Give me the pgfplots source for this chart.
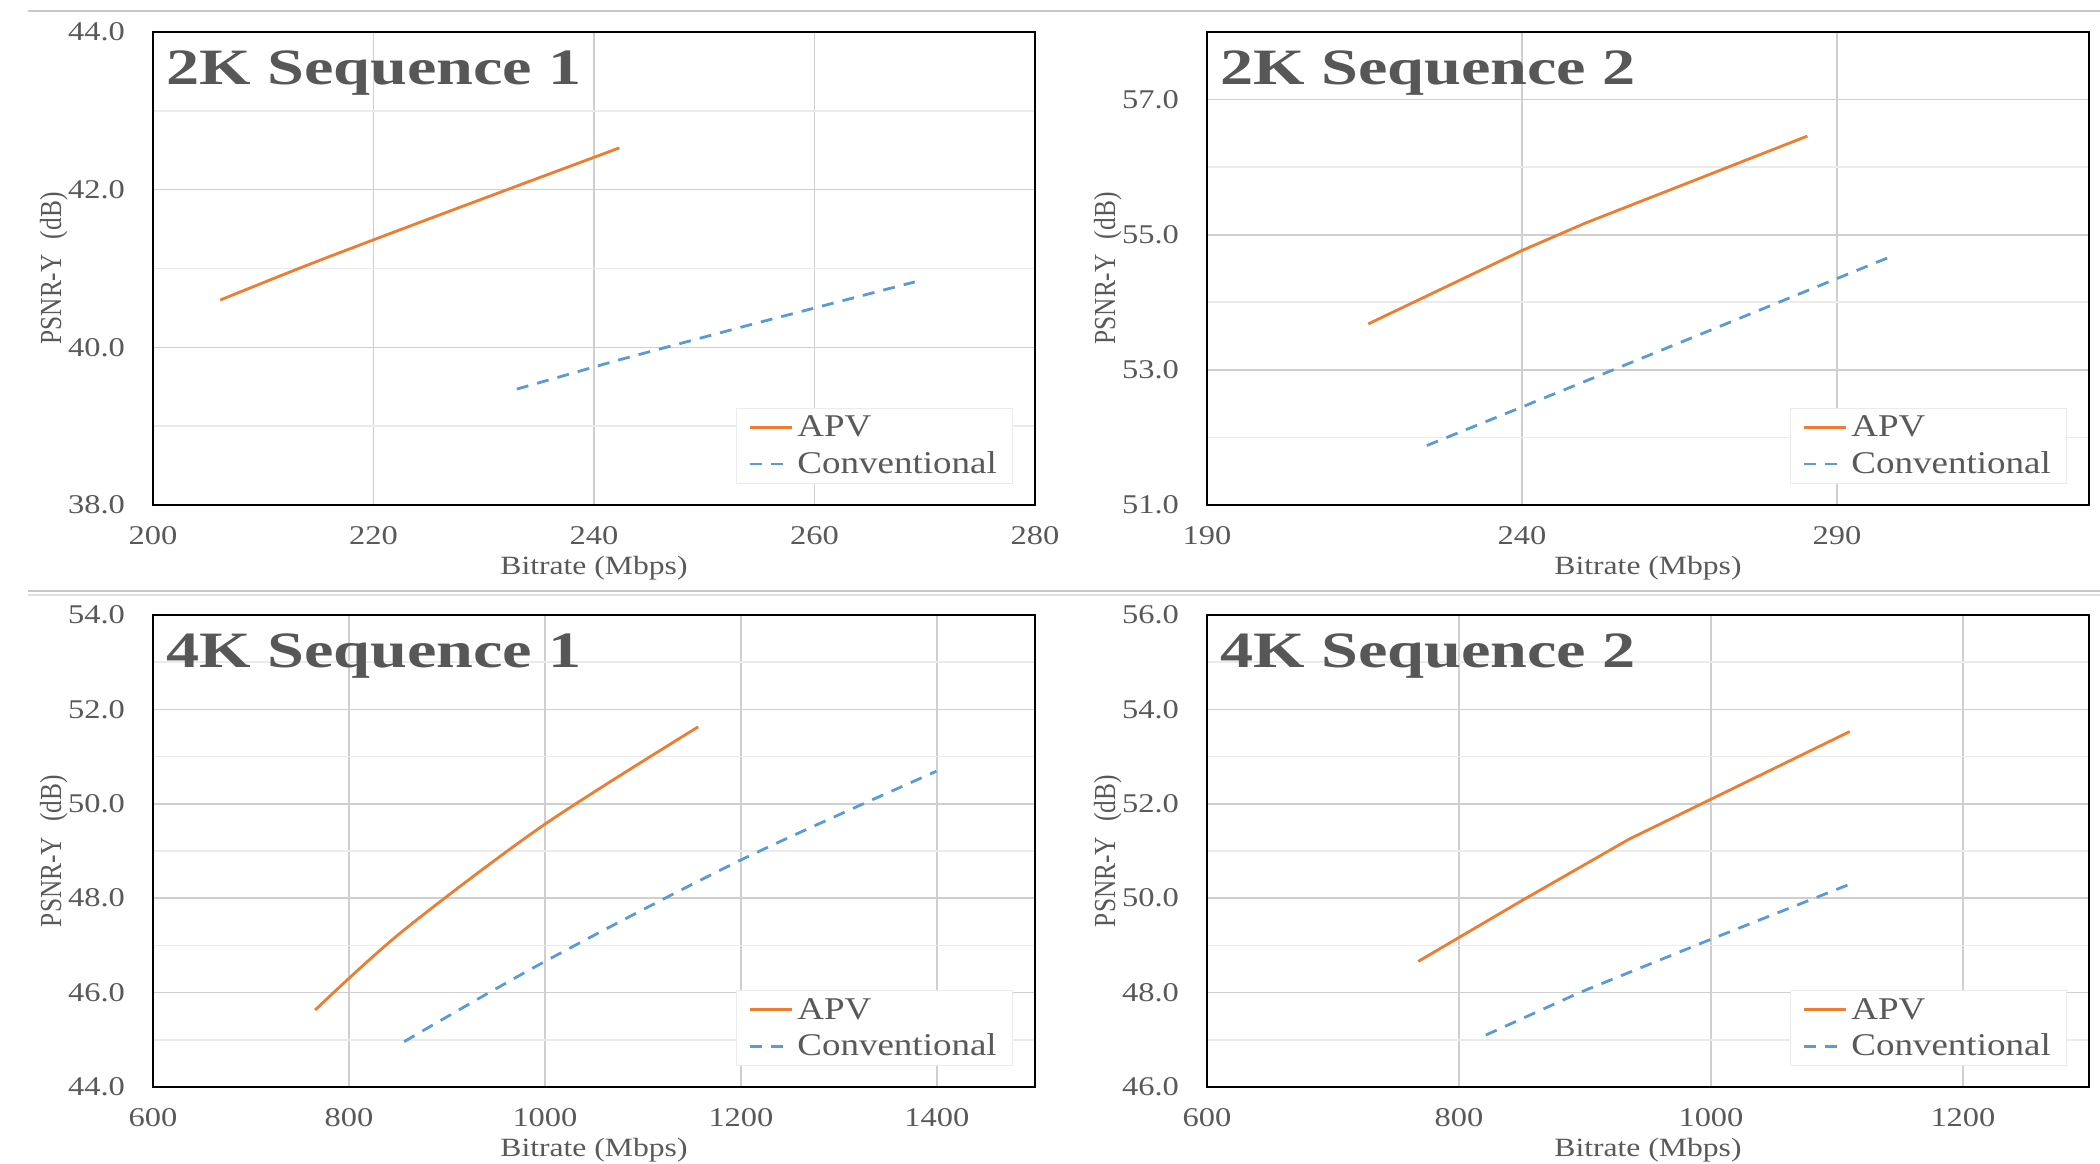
\documentclass[border=0pt]{standalone}
\usepackage{fontspec}
\setmainfont{Liberation Serif}[FakeStretch=1.2]
\newfontfamily\titlefont{Liberation Serif}[FakeStretch=1.3]
\newfontfamily\legfont{Liberation Serif}[FakeStretch=1.17]
\newfontfamily\ylabfont{Liberation Serif}[FakeStretch=0.83]
\usepackage{pgfplots}
\pgfplotsset{compat=1.18}
\definecolor{apv}{HTML}{ED7D31}
\definecolor{conv}{HTML}{5B9BD5}
\definecolor{txt}{HTML}{595959}
\definecolor{ttl}{HTML}{575757}
\definecolor{majgrid}{HTML}{CFCFCF}
\definecolor{mingrid}{HTML}{EBEBEB}
\definecolor{sep}{HTML}{C8C8C8}

\pgfplotsset{
  panel/.style={
    scale only axis, width=8.82cm, height=4.73cm, anchor=south west,
    axis line style={black, line width=0.5pt},
    major tick length=0pt, minor tick length=0pt,
    xmajorgrids, ymajorgrids, yminorgrids,
    major grid style={majgrid, line width=0.45pt},
    minor grid style={mingrid, line width=0.45pt},
    tick label style={font=\fontsize{7.7}{9}\selectfont, text=txt},
    /pgf/number format/assume math mode=true,
    /pgf/number format/1000 sep={},
    y tick label style={/pgf/number format/fixed, /pgf/number format/fixed zerofill,
      /pgf/number format/precision=1, anchor=east, inner sep=0pt, xshift=-7.8pt},
    x tick label style={anchor=center, inner sep=0pt, yshift=-8.6pt},
    xlabel={Bitrate (Mbps)},
    ylabel={PSNR-Y\enspace(dB)},
    xlabel style={at={(axis description cs:0.5,-0.133)}, anchor=center,
      font=\fontsize{7.5}{9}\selectfont, text=txt},
    ylabel style={at={(axis description cs:-0.1124,0.5)}, anchor=center,
      font=\ylabfont\fontsize{8.7}{10}\selectfont, text=txt},
    legend style={at={(rel axis cs:0.9754,0.0444)}, anchor=south east,
      draw=mingrid, fill=white, inner xsep=3.3pt, inner ysep=0.27pt,
      font=\legfont\fontsize{9}{10}\selectfont, text=txt, cells={anchor=west},
      nodes={inner sep=1.2pt, text height=6.7pt, text depth=1.3pt}},
    legend image code/.code={\draw[#1] (0cm,0cm) -- (0.42cm,0cm);},
  },
  apvline/.style={apv, line width=0.8pt},
  convline/.style={conv, line width=0.8pt, dash pattern=on 3.4pt off 2.6pt},
}
\newcommand{\paneltitle}[1]{\node[anchor=base west, inner sep=0pt, text=ttl,
  font=\titlefont\fontsize{14.5}{16}\selectfont\bfseries]
  at (rel axis cs:0.014,0.888) {#1};}

\begin{document}
\begin{tikzpicture}
\path[use as bounding box] (0,0) rectangle (21,11.64);
\draw[sep, line width=0.6pt] (0.28,11.53) -- (21,11.53);
\draw[sep, line width=0.6pt] (0.28,5.73) -- (21,5.73);
\draw[sep!60, line width=0.5pt] (0.28,5.69) -- (21,5.69);

% 2K Sequence 1
\begin{axis}[panel, at={(1.53cm,6.59cm)},
  xmin=200, xmax=280, xtick={200,220,240,260,280},
  ymin=38, ymax=44, ytick={38,40,42,44}, minor ytick={39,41,43}]
  \addplot[apvline, smooth] coordinates {(206.1,40.60) (214.5,41.07) (226.0,41.68) (242.3,42.53)};
  \addplot[convline] coordinates {(233.0,39.47) (242.0,39.83) (254.0,40.28) (269.1,40.83)};
  \legend{APV,Conventional}
  \paneltitle{2K Sequence 1}
\end{axis}

% 2K Sequence 2
\begin{axis}[panel, at={(12.07cm,6.59cm)},
  xmin=190, xmax=330, xtick={190,240,290},
  ymin=51, ymax=58, ytick={51,53,55,57}, minor ytick={52,54,56}]
  \addplot[apvline] coordinates {(215.6,53.68) (240.1,54.77) (250.0,55.17) (285.3,56.46)};
  \addplot[convline] coordinates {(224.9,51.88) (240.0,52.45) (265.0,53.40) (298.9,54.69)};
  \legend{APV,Conventional}
  \paneltitle{2K Sequence 2}
\end{axis}

% 4K Sequence 1
\begin{axis}[panel, at={(1.53cm,0.77cm)}, height=4.72cm,
  xmin=600, xmax=1500, xtick={600,800,1000,1200,1400},
  ymin=44, ymax=54, ytick={44,46,48,50,52,54}, minor ytick={45,47,49,51,53}]
  \addplot[apvline, smooth] coordinates {(765.4,45.63) (854.0,47.29) (998.0,49.54) (1156.3,51.63)};
  \addplot[convline, smooth] coordinates {(856.3,44.96) (1000.0,46.66) (1200.0,48.81) (1399.5,50.69)};
  \legend{APV,Conventional}
  \paneltitle{4K Sequence 1}
\end{axis}

% 4K Sequence 2
\begin{axis}[panel, at={(12.07cm,0.77cm)}, height=4.72cm,
  xmin=600, xmax=1300, xtick={600,800,1000,1200},
  ymin=46, ymax=56, ytick={46,48,50,52,54,56}, minor ytick={47,49,51,53,55}]
  \addplot[apvline] coordinates {(767.6,48.66) (850.0,49.95) (935.0,51.25) (1110.1,53.53)};
  \addplot[convline] coordinates {(821.3,47.10) (895.7,48.00) (1000.0,49.13) (1109.6,50.29)};
  \legend{APV,Conventional}
  \paneltitle{4K Sequence 2}
\end{axis}
\end{tikzpicture}
\end{document}
